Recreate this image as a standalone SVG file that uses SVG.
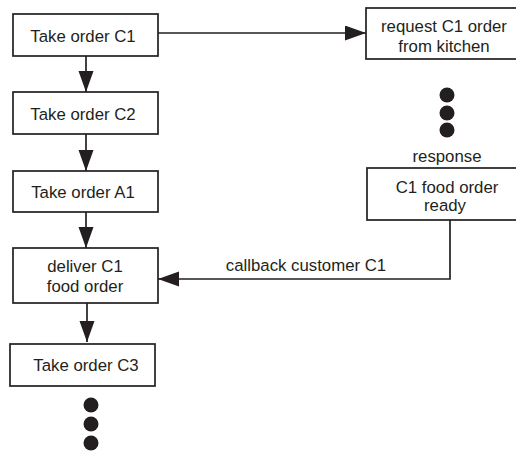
<svg xmlns="http://www.w3.org/2000/svg" width="516" height="454" viewBox="0 0 516 454">
  <style>
    .box { fill: #ffffff; stroke: #231f20; stroke-width: 1.7; }
    .lbl { font-family: "Liberation Sans", Arial, sans-serif; font-size: 16.8px; fill: #231f20; text-anchor: middle; }
    .wire { fill: none; stroke: #231f20; stroke-width: 1.7; }
    .dot { fill: #231f20; }
  </style>
  <defs>
    <marker id="arrow" markerUnits="userSpaceOnUse" markerWidth="22" markerHeight="16" refX="21" refY="7.5" orient="auto">
      <path d="M0,0 L21,7.5 L0,15 Z" fill="#231f20"/>
    </marker>
  </defs>

  <g id="connectors">
    <line class="wire" x1="86" y1="56" x2="86" y2="92" marker-end="url(#arrow)"/>
    <line class="wire" x1="86" y1="134" x2="86" y2="171" marker-end="url(#arrow)"/>
    <line class="wire" x1="86" y1="212" x2="86" y2="248" marker-end="url(#arrow)"/>
    <line class="wire" x1="87" y1="303" x2="87" y2="342" marker-end="url(#arrow)"/>
    <line class="wire" x1="158" y1="33" x2="366" y2="33" marker-end="url(#arrow)"/>
    <polyline class="wire" points="450,220 450,279 158,279" marker-end="url(#arrow)"/>
    <text class="lbl" x="306" y="271">callback customer C1</text>
  </g>

  <g id="take-c1">
    <rect class="box" x="13" y="14" width="145" height="42"/>
    <text class="lbl" x="83" y="42">Take order C1</text>
  </g>
  <g id="take-c2">
    <rect class="box" x="13" y="92" width="145" height="42"/>
    <text class="lbl" x="83" y="120">Take order C2</text>
  </g>
  <g id="take-a1">
    <rect class="box" x="13" y="171" width="145" height="41"/>
    <text class="lbl" x="83" y="198">Take order A1</text>
  </g>
  <g id="deliver-c1">
    <rect class="box" x="13" y="248" width="145" height="55"/>
    <text class="lbl" x="85" y="272">deliver C1</text>
    <text class="lbl" x="85" y="292">food order</text>
  </g>
  <g id="take-c3">
    <rect class="box" x="10" y="344" width="145" height="42"/>
    <text class="lbl" x="86" y="371">Take order C3</text>
  </g>
  <g id="more-orders">
    <circle class="dot" cx="91" cy="405" r="7.5"/>
    <circle class="dot" cx="91" cy="424" r="7.5"/>
    <circle class="dot" cx="91" cy="443" r="7.5"/>
  </g>

  <g id="request-kitchen">
    <rect class="box" x="366" y="8" width="152" height="51"/>
    <text class="lbl" x="444" y="32">request C1 order</text>
    <text class="lbl" x="444" y="52">from kitchen</text>
  </g>
  <g id="kitchen-wait">
    <circle class="dot" cx="447" cy="95" r="7.5"/>
    <circle class="dot" cx="447" cy="113" r="7.5"/>
    <circle class="dot" cx="447" cy="130" r="7.5"/>
    <text class="lbl" x="447" y="162">response</text>
  </g>
  <g id="food-ready">
    <rect class="box" x="367" y="168" width="151" height="52"/>
    <text class="lbl" x="447" y="193">C1 food order</text>
    <text class="lbl" x="445" y="211">ready</text>
  </g>
</svg>
